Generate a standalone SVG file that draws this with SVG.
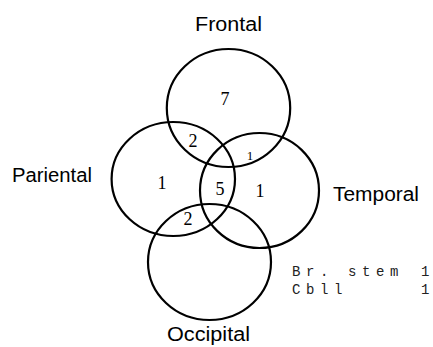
<svg xmlns="http://www.w3.org/2000/svg" width="433" height="347" viewBox="0 0 433 347">
<style>
.set{fill:none;stroke:#000;stroke-width:2.2}
.lbl{font-family:"Liberation Sans",Arial,sans-serif;font-size:20px;fill:#000}
.num{font-family:"Liberation Serif","Times New Roman",serif;font-size:18px;fill:#000;text-anchor:middle}
.mono{font-family:"Liberation Mono","Courier New",monospace;font-size:14px;fill:#222;letter-spacing:5.6px}
.one{font-family:"Liberation Mono","Courier New",monospace;font-size:14px;fill:#222}
</style>
<rect width="433" height="347" fill="#fff"/>
<g id="frontal">
<ellipse class="set" cx="228.5" cy="108" rx="61.7" ry="59"/>
<text class="lbl" x="195" y="31" textLength="67" lengthAdjust="spacingAndGlyphs">Frontal</text>
</g>
<g id="parietal">
<ellipse class="set" cx="173.3" cy="179" rx="61.7" ry="57"/>
<text class="lbl" x="12" y="181.5" textLength="80" lengthAdjust="spacingAndGlyphs">Pariental</text>
</g>
<g id="temporal">
<ellipse class="set" cx="259.5" cy="190.5" rx="59.5" ry="57.5"/>
<text class="lbl" x="333" y="201" textLength="86" lengthAdjust="spacingAndGlyphs">Temporal</text>
</g>
<g id="occipital">
<ellipse class="set" cx="209.5" cy="262" rx="61.5" ry="58"/>
<text class="lbl" x="167" y="341" textLength="83" lengthAdjust="spacingAndGlyphs">Occipital</text>
</g>
<g id="counts">
<text class="num" x="225" y="105">7</text>
<text class="num" x="193" y="147">2</text>
<text class="num" x="250" y="160" style="font-size:13px">1</text>
<text class="num" x="162" y="189">1</text>
<text class="num" x="220" y="195">5</text>
<text class="num" x="260" y="197">1</text>
<text class="num" x="188" y="225">2</text>
</g>
<g id="other">
<text class="mono" x="292" y="276">Br. stem</text>
<text class="one" x="421" y="276">1</text>
<text class="mono" x="292" y="294">Cbll</text>
<text class="one" x="421" y="294">1</text>
</g>
</svg>
